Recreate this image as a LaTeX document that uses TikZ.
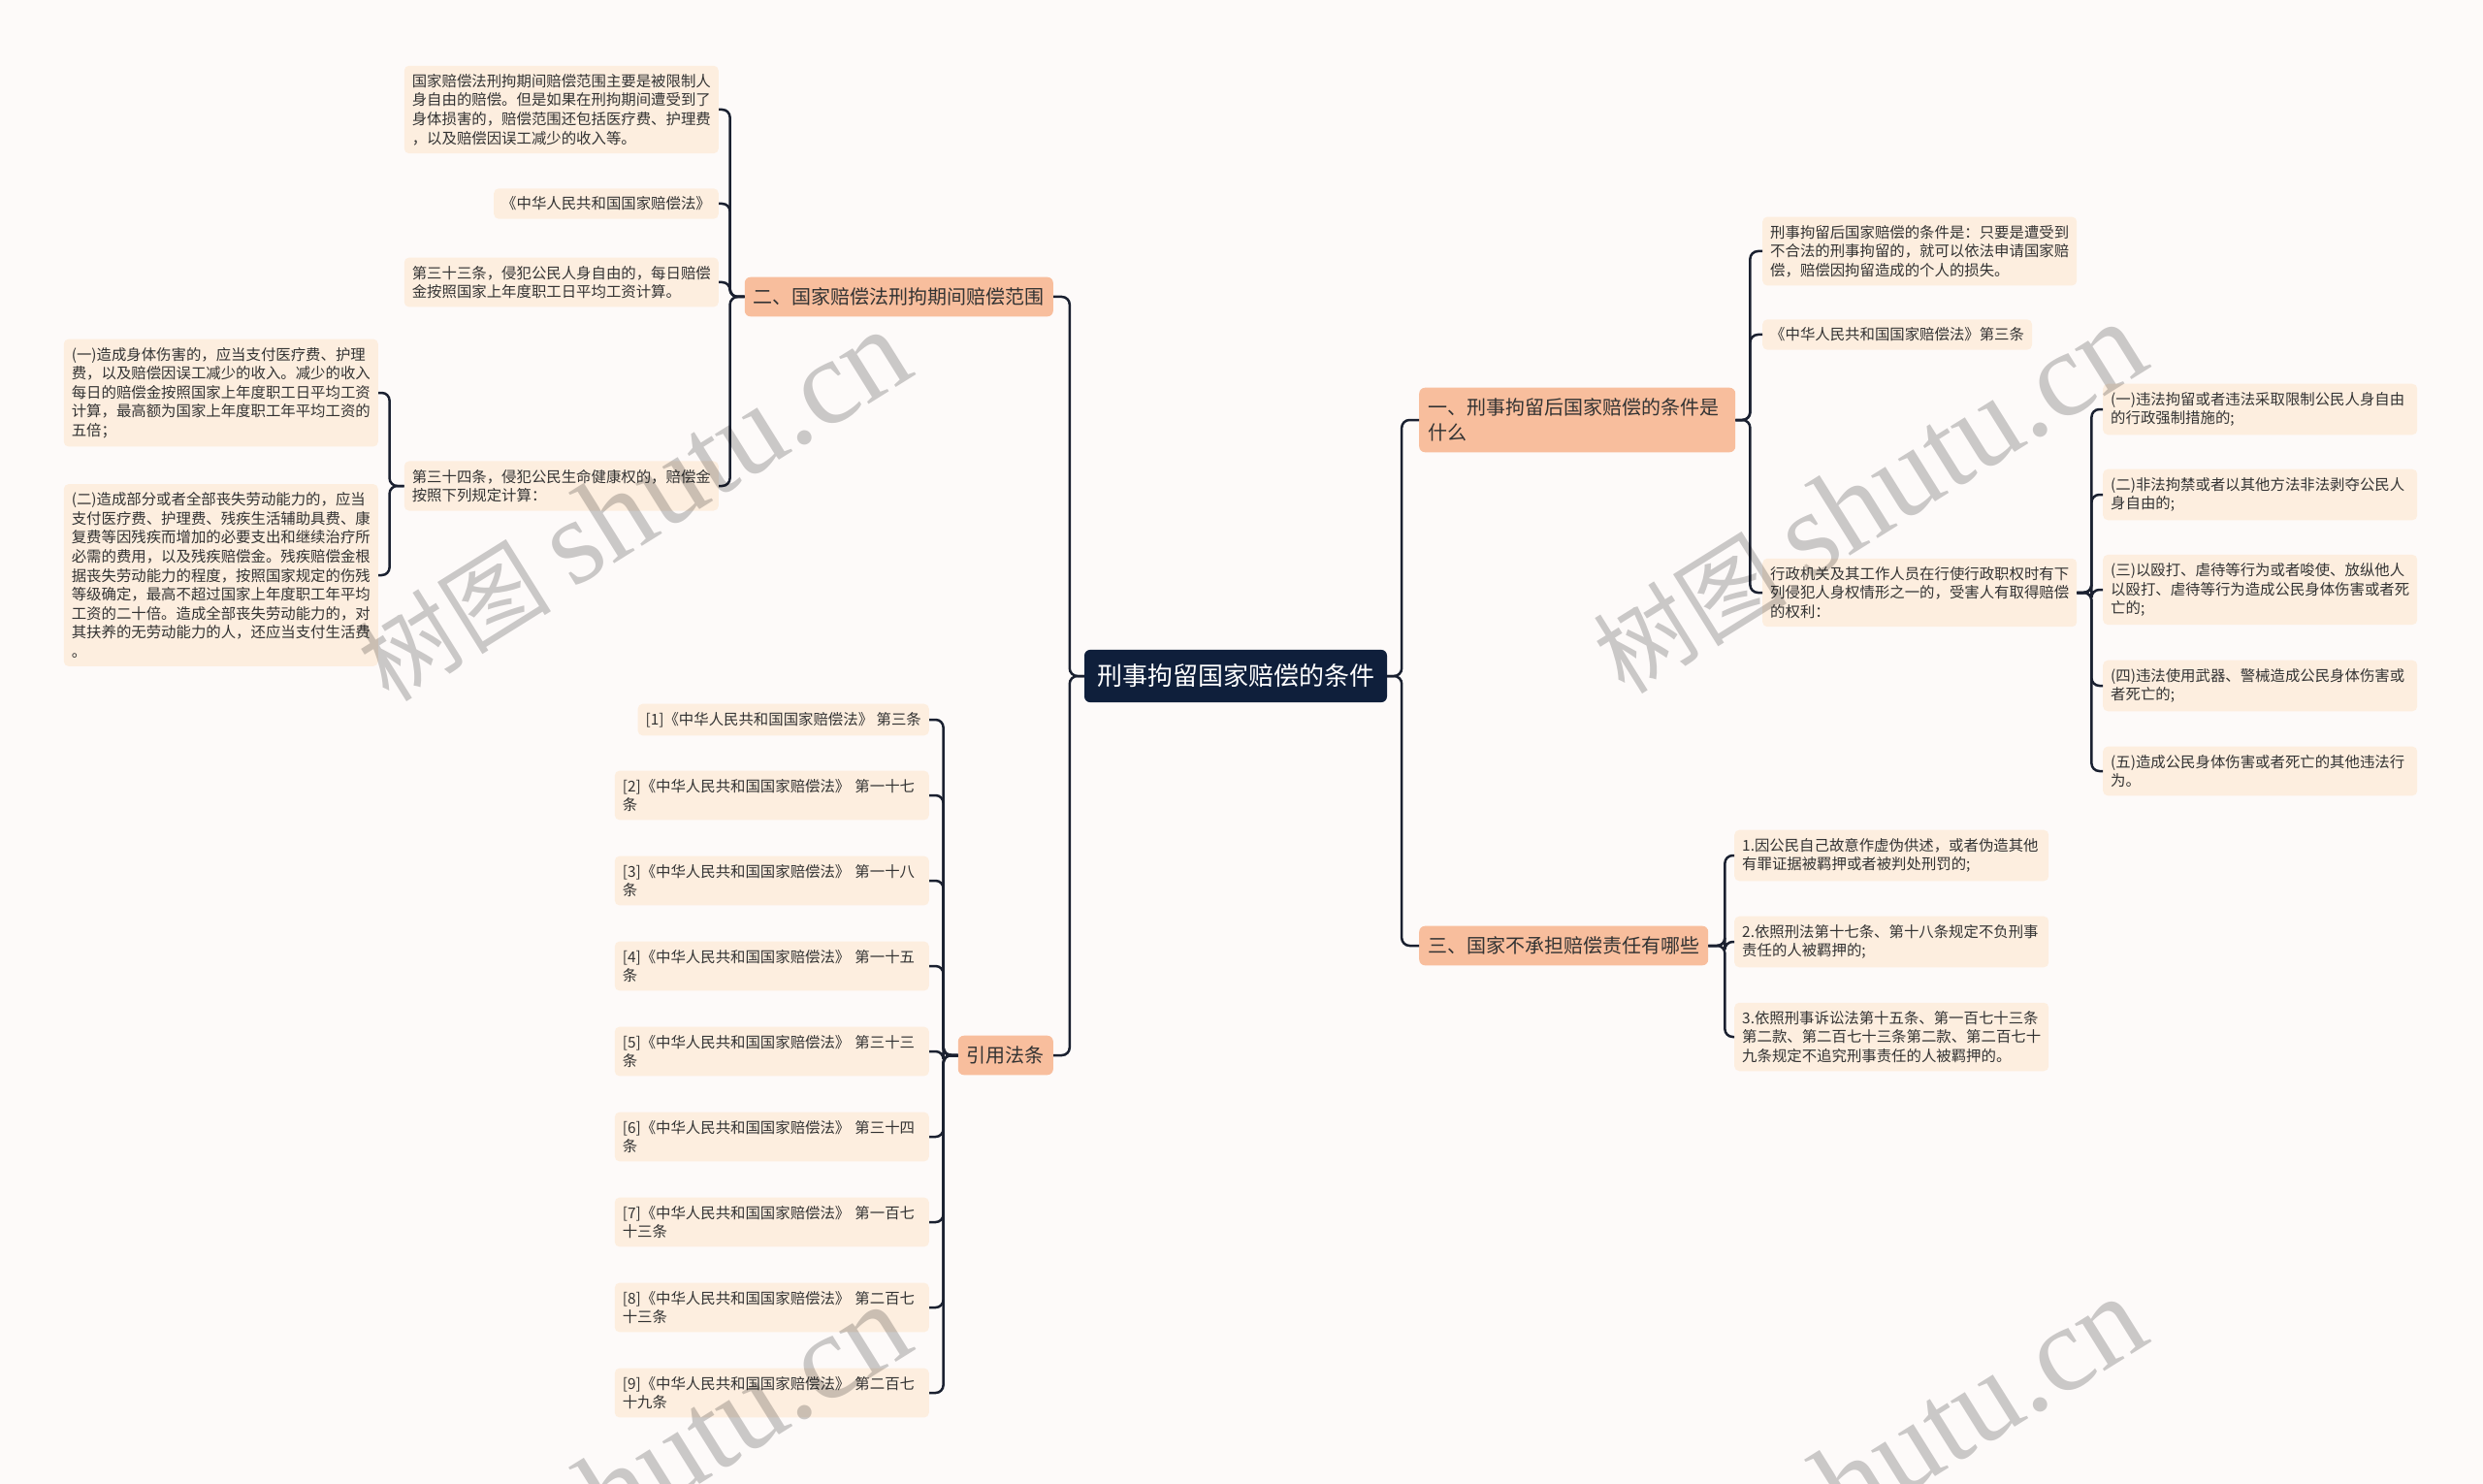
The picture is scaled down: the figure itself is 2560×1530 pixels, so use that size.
\documentclass[tikz,border=0pt]{standalone}
\usepackage{fontspec}
\setmainfont{Noto Sans CJK SC}
\newfontfamily\wmlatin{Liberation Serif}
\definecolor{bgc}{HTML}{FDFAF9}
\definecolor{rootc}{HTML}{0F1F3B}
\definecolor{lvc}{HTML}{F8BE9D}
\definecolor{leafc}{HTML}{FDEEDF}
\definecolor{txtc}{HTML}{333333}
\definecolor{linec}{HTML}{1A2030}
\begin{document}
\begin{tikzpicture}[x=1pt,y=-1pt,
  rootbox/.style={fill=rootc,text=white,rounded corners=6pt,inner xsep=13pt,inner ysep=15pt,font=\fontsize{26}{32}\selectfont},
  lvbox/.style={fill=lvc,text=txtc,rounded corners=6pt,inner xsep=9pt,inner ysep=11pt,align=left,font=\fontsize{20}{26}\selectfont},
  leafbox/.style={fill=leafc,text=txtc,rounded corners=5pt,inner xsep=8pt,inner ysep=8.5pt,align=left,font=\fontsize{15.4}{19.6}\selectfont},
  widebox/.style={leafbox,text width=308pt},
  link/.style={draw=linec,line width=2.5pt,rounded corners=8pt},
  wmark/.style={rotate=32,text=black,text opacity=0.2,inner sep=0pt}]
\fill[bgc] (0,0) rectangle (2560,1530);
\useasboundingbox (0,0) rectangle (2560,1530);

% root and first level
\node[rootbox] (root) at (1274,697) {刑事拘留国家赔偿的条件};
\node[lvbox,anchor=west,text width=308pt] (one) at (1463,433) {一、刑事拘留后国家赔偿的条件是\\什么};
\node[lvbox,anchor=west] (three) at (1463,975) {三、国家不承担赔偿责任有哪些};
\node[lvbox,anchor=east] (two) at (1086,306) {二、国家赔偿法刑拘期间赔偿范围};
\node[lvbox,anchor=east] (cite) at (1086,1088) {引用法条};

% branch two
\node[widebox,anchor=east] (a1) at (741,113) {国家赔偿法刑拘期间赔偿范围主要是被限制人\\身自由的赔偿。但是如果在刑拘期间遭受到了\\身体损害的，赔偿范围还包括医疗费、护理费\\，以及赔偿因误工减少的收入等。};
\node[leafbox,anchor=east] (a2) at (741,210) {《中华人民共和国国家赔偿法》};
\node[widebox,anchor=east] (a3) at (741,291) {第三十三条，侵犯公民人身自由的，每日赔偿\\金按照国家上年度职工日平均工资计算。};
\node[widebox,anchor=east] (a4) at (741,501) {第三十四条，侵犯公民生命健康权的，赔偿金\\按照下列规定计算：};
\node[widebox,anchor=east] (b1) at (390,405) {(一)造成身体伤害的，应当支付医疗费、护理\\费，以及赔偿因误工减少的收入。减少的收入\\每日的赔偿金按照国家上年度职工日平均工资\\计算，最高额为国家上年度职工年平均工资的\\五倍；};
\node[widebox,anchor=east] (b2) at (390,593) {(二)造成部分或者全部丧失劳动能力的，应当\\支付医疗费、护理费、残疾生活辅助具费、康\\复费等因残疾而增加的必要支出和继续治疗所\\必需的费用，以及残疾赔偿金。残疾赔偿金根\\据丧失劳动能力的程度，按照国家规定的伤残\\等级确定，最高不超过国家上年度职工年平均\\工资的二十倍。造成全部丧失劳动能力的，对\\其扶养的无劳动能力的人，还应当支付生活费\\。};

% citations
\node[leafbox,anchor=east] (c1) at (958,742) {[1]《中华人民共和国国家赔偿法》 第三条};
\node[widebox,anchor=east] (c2) at (958,820) {[2]《中华人民共和国国家赔偿法》 第一十七\\条};
\node[widebox,anchor=east] (c3) at (958,908) {[3]《中华人民共和国国家赔偿法》 第一十八\\条};
\node[widebox,anchor=east] (c4) at (958,996) {[4]《中华人民共和国国家赔偿法》 第一十五\\条};
\node[widebox,anchor=east] (c5) at (958,1084) {[5]《中华人民共和国国家赔偿法》 第三十三\\条};
\node[widebox,anchor=east] (c6) at (958,1172) {[6]《中华人民共和国国家赔偿法》 第三十四\\条};
\node[widebox,anchor=east] (c7) at (958,1260) {[7]《中华人民共和国国家赔偿法》 第一百七\\十三条};
\node[widebox,anchor=east] (c8) at (958,1348) {[8]《中华人民共和国国家赔偿法》 第二百七\\十三条};
\node[widebox,anchor=east] (c9) at (958,1436) {[9]《中华人民共和国国家赔偿法》 第二百七\\十九条};

% branch one
\node[widebox,anchor=west] (d1) at (1817,259) {刑事拘留后国家赔偿的条件是：只要是遭受到\\不合法的刑事拘留的，就可以依法申请国家赔\\偿，赔偿因拘留造成的个人的损失。};
\node[leafbox,anchor=west] (d2) at (1817,345) {《中华人民共和国国家赔偿法》第三条};
\node[widebox,anchor=west] (d3) at (1817,611) {行政机关及其工作人员在行使行政职权时有下\\列侵犯人身权情形之一的，受害人有取得赔偿\\的权利：};
\node[widebox,anchor=west] (e1) at (2168,422) {(一)违法拘留或者违法采取限制公民人身自由\\的行政强制措施的;};
\node[widebox,anchor=west] (e2) at (2168,510) {(二)非法拘禁或者以其他方法非法剥夺公民人\\身自由的;};
\node[widebox,anchor=west] (e3) at (2168,608) {(三)以殴打、虐待等行为或者唆使、放纵他人\\以殴打、虐待等行为造成公民身体伤害或者死\\亡的;};
\node[widebox,anchor=west] (e4) at (2168,707) {(四)违法使用武器、警械造成公民身体伤害或\\者死亡的;};
\node[widebox,anchor=west] (e5) at (2168,795) {(五)造成公民身体伤害或者死亡的其他违法行\\为。};

% branch three
\node[widebox,anchor=west] (f1) at (1788,882) {1.因公民自己故意作虚伪供述，或者伪造其他\\有罪证据被羁押或者被判处刑罚的;};
\node[widebox,anchor=west] (f2) at (1788,971) {2.依照刑法第十七条、第十八条规定不负刑事\\责任的人被羁押的;};
\node[widebox,anchor=west] (f3) at (1788,1069) {3.依照刑事诉讼法第十五条、第一百七十三条\\第二款、第二百七十三条第二款、第二百七十\\九条规定不追究刑事责任的人被羁押的。};

% connectors
\foreach \c in {one,three} \draw[link] (root.east) -- ++(15,0) |- (\c.west);
\foreach \c in {two,cite} \draw[link] (root.west) -- ++(-15,0) |- (\c.east);
\foreach \c in {a1,a2,a3,a4} \draw[link] (two.west) -- ++(-15,0) |- (\c.east);
\foreach \c in {b1,b2} \draw[link] (a4.west) -- ++(-15,0) |- (\c.east);
\foreach \c in {c1,c2,c3,c4,c5,c6,c7,c8,c9} \draw[link] (cite.west) -- ++(-15,0) |- (\c.east);
\foreach \c in {d1,d2,d3} \draw[link] (one.east) -- ++(15,0) |- (\c.west);
\foreach \c in {e1,e2,e3,e4,e5} \draw[link] (d3.east) -- ++(15,0) |- (\c.west);
\foreach \c in {f1,f2,f3} \draw[link] (three.east) -- ++(17,0) |- (\c.west);

% watermarks
\node[wmark] (w1) at (653,522) {\fontsize{100}{110}\selectfont 树图 {\wmlatin\fontsize{125}{130}\selectfont shutu.cn}};
\node[wmark] (w2) at (1927,514) {\fontsize{100}{110}\selectfont 树图 {\wmlatin\fontsize{125}{130}\selectfont shutu.cn}};
\node[wmark] (w3) at (653,1527) {\fontsize{100}{110}\selectfont 树图 {\wmlatin\fontsize{125}{130}\selectfont shutu.cn}};
\node[wmark] (w4) at (1927,1519) {\fontsize{100}{110}\selectfont 树图 {\wmlatin\fontsize{125}{130}\selectfont shutu.cn}};
\end{tikzpicture}
\end{document}
